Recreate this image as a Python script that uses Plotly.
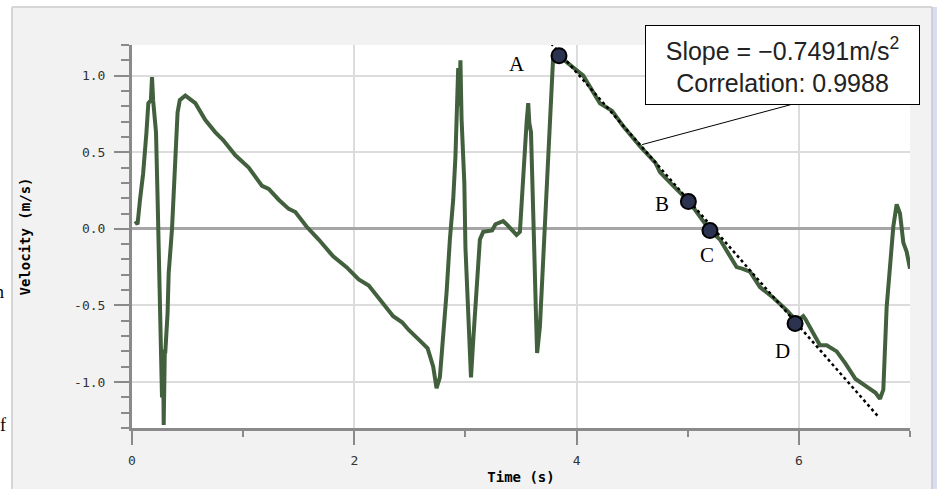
import plotly.graph_objects as go

# ---------------- data ----------------
time_s = [0.03, 0.05, 0.072, 0.10, 0.13, 0.147, 0.17, 0.18, 0.19, 0.216, 0.23, 0.24, 0.25,
          0.26, 0.27, 0.28, 0.285, 0.295, 0.30, 0.32, 0.33, 0.36, 0.38, 0.39, 0.41, 0.43,
          0.48, 0.57, 0.66, 0.75, 0.82, 0.93, 1.05, 1.17, 1.23, 1.32, 1.41, 1.47, 1.57,
          1.68, 1.81, 1.93, 2.04, 2.13, 2.23, 2.35, 2.43, 2.49, 2.59, 2.66, 2.71, 2.74,
          2.77, 2.80, 2.83, 2.86, 2.89, 2.91, 2.92, 2.935, 2.945, 2.955, 2.965, 2.99,
          3.00, 3.02, 3.04, 3.05, 3.07, 3.09, 3.11, 3.13, 3.16, 3.24, 3.27, 3.34, 3.37,
          3.43, 3.46, 3.49, 3.51, 3.53, 3.55, 3.565, 3.575, 3.59, 3.61, 3.62, 3.635,
          3.645, 3.67, 3.69, 3.71, 3.73, 3.75, 3.76, 3.78, 3.79, 3.84, 3.97, 4.06, 4.21,
          4.32, 4.42, 4.57, 4.71, 4.75, 4.87, 5.01, 5.10, 5.20, 5.29, 5.35, 5.44, 5.49,
          5.56, 5.65, 5.77, 5.89, 5.94, 5.97, 6.04, 6.06, 6.12, 6.19, 6.25, 6.34, 6.42,
          6.51, 6.61, 6.69, 6.73, 6.76, 6.79, 6.82, 6.85, 6.88, 6.91, 6.94, 6.97, 7.00]
velocity = [0.05, 0.03, 0.19, 0.36, 0.63, 0.82, 0.84, 0.99, 0.84, 0.63, 0.21, -0.14, -0.48,
            -0.80, -1.10, -0.82, -1.28, -0.80, -0.80, -0.55, -0.29, 0.00, 0.30, 0.52, 0.76, 0.84,
            0.87, 0.82, 0.71, 0.63, 0.58, 0.48, 0.40, 0.28, 0.26, 0.19, 0.13, 0.11, 0.015,
            -0.07, -0.18, -0.25, -0.33, -0.37, -0.46, -0.57, -0.61, -0.66, -0.73, -0.78, -0.90, -1.04,
            -0.97, -0.73, -0.42, -0.07, 0.19, 0.47, 0.69, 1.05, 0.80, 1.10, 0.72, 0.30,
            -0.12, -0.51, -0.81, -0.97, -0.73, -0.51, -0.25, -0.07, -0.02, -0.01, 0.03, 0.05, 0.03,
            -0.02, -0.04, -0.02, 0.25, 0.52, 0.69, 0.82, 0.69, 0.63, 0.19, -0.16, -0.57,
            -0.81, -0.64, -0.33, -0.01, 0.25, 0.58, 0.80, 1.06, 1.13, 1.13, 1.05, 1.00, 0.82,
            0.77, 0.67, 0.54, 0.43, 0.37, 0.28, 0.18, 0.09, -0.01, -0.07, -0.14, -0.25, -0.26,
            -0.28, -0.38, -0.45, -0.53, -0.57, -0.61, -0.57, -0.59, -0.67, -0.76, -0.76, -0.80, -0.88,
            -0.98, -1.03, -1.07, -1.11, -1.05, -0.51, -0.22, 0.015, 0.16, 0.10, -0.09, -0.15, -0.26]

fit_t = [3.735, 6.72]
fit_v = [1.24, -1.23]

point_labels = ["A", "B", "C", "D"]
point_t = [3.842, 5.006, 5.20, 5.966]
point_v = [1.13, 0.178, -0.011, -0.618]

y_tick_vals = [-1.0, -0.5, 0.0, 0.5, 1.0]
y_tick_text = ["-1.0", "-0.5", "0.0", "0.5", "1.0"]
x_tick_vals = [0, 2, 4, 6]
x_tick_text = ["0", "2", "4", "6"]

box_text = "Slope = \u22120.7491m/s<sup>2</sup><br>Correlation: 0.9988"
box_t, box_v = 5.855, 1.07
leader_t = [4.59, 5.925]
leader_v = [0.55, 0.81]

# ---------------- figure ----------------
W, H = 937, 489
L, R, T, B = 132, 27, 45, 61
pw, ph = W - L - R, H - T - B

def px(x):
    return (x - L) / pw

def py(y):
    return (H - B - y) / ph

fig = go.Figure()

fig.add_trace(go.Scatter(x=time_s, y=velocity, mode="lines",
                         line=dict(color="#42603d", width=4), hoverinfo="skip"))
fig.add_trace(go.Scatter(x=fit_t, y=fit_v, mode="lines",
                         line=dict(color="black", width=2.5, dash="dot"), hoverinfo="skip"))
fig.add_trace(go.Scatter(x=point_t, y=point_v, mode="markers",
                         marker=dict(size=15, color="#2b3350",
                                     line=dict(color="black", width=2)),
                         hoverinfo="skip"))

# point labels
offsets = {"A": (-42, -8), "B": (-26, -2), "C": (-3, -24), "D": (-13, -27)}
for lab, t, v in zip(point_labels, point_t, point_v):
    dx, dy = offsets[lab]
    fig.add_annotation(x=t, y=v, text=lab, showarrow=False, xshift=dx, yshift=dy,
                       font=dict(family="Liberation Serif", size=21, color="black"))

# slope box
fig.add_annotation(x=box_t, y=box_v, text=box_text, showarrow=False,
                   width=273, height=78, borderpad=0, borderwidth=1,
                   bordercolor="black", bgcolor="white",
                   font=dict(family="Liberation Sans", size=25, color="#222222"))
fig.add_shape(type="line", xref="x", yref="y", x0=leader_t[0], y0=leader_v[0],
              x1=leader_t[1], y1=leader_v[1], line=dict(color="black", width=1))

# outer frame decorations
shapes = [
    dict(type="rect", xref="paper", yref="paper", x0=px(0), x1=px(11), y0=py(H + 5), y1=py(-5),
         fillcolor="white", line=dict(width=0)),
    dict(type="rect", xref="paper", yref="paper", x0=px(0), x1=px(W), y0=py(7), y1=py(-5),
         fillcolor="white", line=dict(width=0)),
    dict(type="line", xref="paper", yref="paper", x0=px(12), x1=px(12), y0=py(7), y1=py(H + 5),
         line=dict(color="#d6d6d6", width=2)),
    dict(type="line", xref="paper", yref="paper", x0=px(12), x1=px(932), y0=py(7), y1=py(7),
         line=dict(color="#d6d6d6", width=2)),
    dict(type="rect", xref="paper", yref="paper", x0=px(932), x1=px(W + 5), y0=py(H + 5), y1=py(7),
         fillcolor="#dcdcf0", line=dict(width=0)),
    dict(type="line", xref="paper", yref="paper", x0=px(932), x1=px(932), y0=py(7), y1=py(H + 5),
         line=dict(color="#c8c8d0", width=1.5)),
]
for s in shapes:
    fig.add_shape(**s)

# cropped glyphs of surrounding page text
fig.add_annotation(xref="paper", yref="paper", x=px(6), y=py(292), xanchor="right",
                   text="n", showarrow=False,
                   font=dict(family="Liberation Serif", size=18, color="black"))
fig.add_annotation(xref="paper", yref="paper", x=px(8), y=py(437), xanchor="right",
                   text="f", showarrow=False,
                   font=dict(family="Liberation Serif", size=18, color="black"))

tickfont = dict(family="DejaVu Sans Mono", size=13, color="#333333")
titlefont = dict(family="DejaVu Sans Mono", size=14, color="black")
fig.update_layout(
    width=W, height=H, margin=dict(l=L, r=R, t=T, b=B, autoexpand=False),
    paper_bgcolor="#f2f2f2", plot_bgcolor="white", showlegend=False,
    xaxis=dict(range=[0, 7], tickvals=x_tick_vals, ticktext=x_tick_text, automargin=False,
               ticks="outside", ticklen=14, tickwidth=2, tickcolor="#8a8a8a",
               minor=dict(dtick=1, tick0=0, ticks="outside", ticklen=6, tickwidth=2,
                          tickcolor="#8a8a8a", showgrid=False),
               showline=True, linecolor="#8a8a8a", linewidth=3,
               showgrid=True, gridcolor="#dcdcdc", gridwidth=2,
               zeroline=False, tickfont=tickfont, ticklabelstandoff=4,
               title=dict(text="<b>Time (s)</b>", standoff=6, font=titlefont)),
    yaxis=dict(range=[-1.3, 1.2], tickvals=y_tick_vals, ticktext=y_tick_text, automargin=False,
               ticks="outside", ticklen=15, tickwidth=2, tickcolor="#8a8a8a",
               minor=dict(dtick=0.1, tick0=0, ticks="outside", ticklen=8, tickwidth=2,
                          tickcolor="#8a8a8a", showgrid=False),
               showline=True, linecolor="#8a8a8a", linewidth=3,
               showgrid=True, gridcolor="#dcdcdc", gridwidth=2,
               zeroline=True, zerolinecolor="#a6a6a6", zerolinewidth=3,
               tickfont=tickfont, ticklabelstandoff=6,
               title=dict(text="<b>Velocity (m/s)</b>", standoff=41, font=titlefont)),
)

fig.write_html("out.html", config={"displayModeBar": False},
               post_script="document.body.style.margin='0px';document.body.style.overflow='hidden';")
